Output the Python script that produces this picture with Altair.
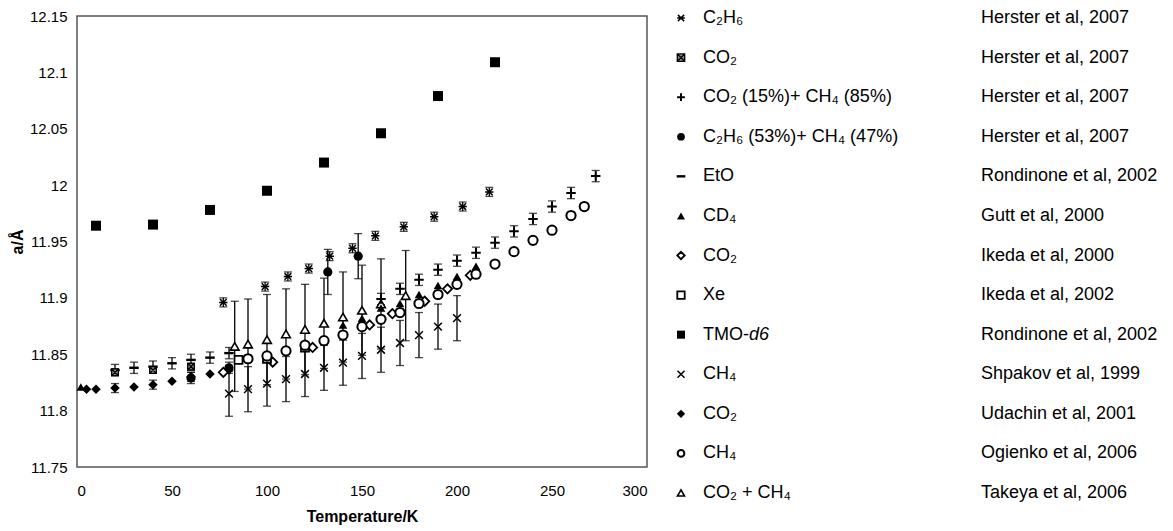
import altair as alt
import pandas as pd

# ---- lattice parameter a (Å) of sI clathrate hydrates versus temperature (K)
# each series: temperatures, lattice parameters, error half-widths

c2h6_T = [77, 99, 111, 122, 133, 145, 157, 172, 188, 203, 217]
c2h6_a = [11.896, 11.910, 11.919, 11.926, 11.937, 11.944, 11.955, 11.963, 11.972, 11.981, 11.994]
c2h6_err = [0.004] * 11

co2_herster_T = [20, 40, 60]
co2_herster_a = [11.834, 11.836, 11.839]
co2_herster_err = [0.003, 0.003, 0.003]

co2ch4_T = [160, 170, 180, 190, 200, 210, 220, 230, 240, 250, 260, 273]
co2ch4_a = [11.899, 11.908, 11.916, 11.925, 11.933, 11.940, 11.949, 11.959, 11.970, 11.981, 11.993, 12.008]
co2ch4_err = [0.005] * 12

c2h6ch4_T = [60, 80, 132, 148]
c2h6ch4_a = [11.829, 11.838, 11.923, 11.937]
c2h6ch4_err = [0.005, 0.005, 0.020, 0.020]

eto_T = [20, 30, 40, 50, 60, 70, 80]
eto_a = [11.836, 11.838, 11.839, 11.842, 11.845, 11.847, 11.851]
eto_err = [0.005] * 7

cd4_T = [2, 140, 150, 160, 170, 180, 190, 200, 210]
cd4_a = [11.821, 11.876, 11.882, 11.891, 11.895, 11.903, 11.911, 11.919, 11.928]
cd4_err = [0.0] * 9

co2_ikeda_T = [77, 103, 124, 154, 166, 183, 195, 207]
co2_ikeda_a = [11.834, 11.843, 11.856, 11.876, 11.886, 11.897, 11.908, 11.920]
co2_ikeda_err = [0.0] * 8

xe_T = [85, 100, 120]
xe_a = [11.845, 11.846, 11.856]
xe_err = [0.0] * 3

tmo_T = [10, 40, 70, 100, 130, 160, 190, 220]
tmo_a = [11.964, 11.965, 11.978, 11.995, 12.020, 12.046, 12.079, 12.109]
tmo_err = [0.0] * 8

ch4_shpakov_T = [80, 90, 100, 110, 120, 130, 140, 150, 160, 170, 180, 190, 200]
ch4_shpakov_a = [11.815, 11.819, 11.824, 11.828, 11.8325, 11.838, 11.8425, 11.8485, 11.854,
                 11.860, 11.867, 11.8745, 11.882]
ch4_shpakov_err = [0.020] * 13

co2_udachin_T = [5, 10, 20, 30, 40, 50, 60, 70, 80]
co2_udachin_a = [11.819, 11.819, 11.820, 11.821, 11.823, 11.826, 11.830, 11.8325, 11.836]
co2_udachin_err = [0.0, 0.0, 0.004, 0.0, 0.004, 0.0, 0.004, 0.0, 0.0]

ch4_ogienko_T = [90, 100, 110, 120, 130, 140, 150, 160, 170, 180, 190, 200, 210, 220, 230,
                 240, 250, 260, 267]
ch4_ogienko_a = [11.846, 11.8485, 11.853, 11.858, 11.862, 11.867, 11.8745, 11.881, 11.887,
                 11.895, 11.903, 11.912, 11.921, 11.930, 11.941, 11.951, 11.960, 11.973, 11.981]
ch4_ogienko_err = [0.003] * 19

takeya_T = [83, 90, 100, 110, 120, 130, 140, 150, 160, 173]
takeya_a = [11.857, 11.859, 11.863, 11.868, 11.872, 11.8775, 11.883, 11.889, 11.8946, 11.902]
takeya_err = [0.040] * 10

# legend rows: formula, reference
legend_labels = ["C₂H₆", "CO₂", "CO₂ (15%)+ CH₄ (85%)", "C₂H₆ (53%)+ CH₄ (47%)", "EtO", "CD₄",
                 "CO₂", "Xe", "TMO-", "CH₄", "CO₂", "CH₄", "CO₂ + CH₄"]
legend_refs = ["Herster et al, 2007", "Herster et al, 2007", "Herster et al, 2007",
               "Herster et al, 2007", "Rondinone et al, 2002", "Gutt et al, 2000",
               "Ikeda et al, 2000", "Ikeda et al, 2002", "Rondinone et al, 2002",
               "Shpakov et al, 1999", "Udachin et al, 2001", "Ogienko et al, 2006",
               "Takeya et al, 2006"]

series = [
    ("c2h6", c2h6_T, c2h6_a, c2h6_err),
    ("co2_herster", co2_herster_T, co2_herster_a, co2_herster_err),
    ("co2ch4", co2ch4_T, co2ch4_a, co2ch4_err),
    ("c2h6ch4", c2h6ch4_T, c2h6ch4_a, c2h6ch4_err),
    ("eto", eto_T, eto_a, eto_err),
    ("cd4", cd4_T, cd4_a, cd4_err),
    ("co2_ikeda", co2_ikeda_T, co2_ikeda_a, co2_ikeda_err),
    ("xe", xe_T, xe_a, xe_err),
    ("tmo", tmo_T, tmo_a, tmo_err),
    ("ch4_shpakov", ch4_shpakov_T, ch4_shpakov_a, ch4_shpakov_err),
    ("co2_udachin", co2_udachin_T, co2_udachin_a, co2_udachin_err),
    ("ch4_ogienko", ch4_ogienko_T, ch4_ogienko_a, ch4_ogienko_err),
    ("takeya", takeya_T, takeya_a, takeya_err),
]

rows = []
for key, ts, As, errs in series:
    for t, a, e in zip(ts, As, errs):
        rows.append({"series": key, "T": t, "a": a, "err": e, "lo": a - e, "hi": a + e})
df = pd.DataFrame(rows)

legend_df = pd.DataFrame({
    "row": list(range(len(legend_labels))),
    "series": [s[0] for s in series],
    "label": legend_labels,
    "ref": legend_refs,
})

# marker glyphs (unit paths)
ASTERISK = "M-0.8,-0.8L0.8,0.8M-0.8,0.8L0.8,-0.8M-1,0L1,0"
BOX_X = "M-1,-1L1,-1L1,1L-1,1ZM-1,-1L1,1M-1,1L1,-1"
PLUS = "M-1,0L1,0M0,-1L0,1"
DASH = "M-1,0L1,0"
XMARK = "M-1,-1L1,1M-1,1L1,-1"

# key: (shape, fill, stroke width, size in plot, size in legend)
style = {
    "c2h6": (ASTERISK, None, 1.5, 70, 60),
    "co2_herster": (BOX_X, "#888", 1.3, 45, 55),
    "co2ch4": (PLUS, None, 2.0, 90, 60),
    "c2h6ch4": ("circle", "black", 0, 85, 60),
    "eto": (DASH, None, 2.4, 90, 75),
    "cd4": ("triangle-up", "black", 0, 75, 65),
    "co2_ikeda": ("diamond", "white", 1.8, 85, 55),
    "xe": ("square", "white", 1.8, 64, 55),
    "tmo": ("square", "black", 0, 100, 65),
    "ch4_shpakov": (XMARK, None, 1.5, 60, 50),
    "co2_udachin": ("diamond", "black", 0, 90, 70),
    "ch4_ogienko": ("circle", "white", 2.0, 85, 45),
    "takeya": ("triangle-up", "white", 1.6, 75, 50),
}

FONT = "Liberation Sans"

x_enc = alt.X("T:Q", title="Temperature/K",
              scale=alt.Scale(domain=[0, 300], nice=False, zero=False),
              axis=alt.Axis(values=[0, 50, 100, 150, 200, 250, 300], grid=False, ticks=False,
                            domain=False, labelFontSize=15, labelColor="black",
                            labelPadding=16, titleFontSize=16, titleFontWeight="bold",
                            titleColor="black", titlePadding=10, labelFont=FONT,
                            titleFont=FONT))
y_scale = alt.Scale(domain=[11.75, 12.15], nice=False, zero=False)
y_axis = alt.Axis(values=[11.75, 11.8, 11.85, 11.9, 11.95, 12.0, 12.05, 12.1, 12.15],
                  format="~g", grid=False, ticks=False, domain=False, labelFontSize=15,
                  labelColor="black", labelPadding=10, titleFontSize=16,
                  titleFontWeight="bold", titleColor="black", titlePadding=4,
                  labelFont=FONT, titleFont=FONT)

base = alt.Chart(df)

layers = []
with_err = df[df["err"] > 0]["series"].unique().tolist()

# error bars: vertical rule plus caps
for key in with_err:
    sub = base.transform_filter(alt.datum.series == key).transform_filter(alt.datum.err > 0)
    layers.append(sub.mark_rule(color="black", strokeWidth=1.3).encode(
        x=x_enc, y=alt.Y("lo:Q", scale=y_scale, axis=y_axis, title="a/Å"), y2="hi:Q"))
    layers.append(sub.transform_fold(["lo", "hi"], as_=["end", "v"])
                  .mark_tick(orient="horizontal", color="black", size=8, thickness=1.3)
                  .encode(x=x_enc, y=alt.Y("v:Q", scale=y_scale, axis=y_axis, title="a/Å")))

draw_order = ["ch4_shpakov", "takeya", "co2_udachin", "cd4", "eto", "co2ch4", "c2h6ch4",
              "co2_herster", "co2_ikeda", "xe", "ch4_ogienko", "c2h6", "tmo"]


def point_props(key, in_legend):
    shape, fill, sw, size_plot, size_leg = style[key]
    size = size_leg if in_legend else size_plot
    if fill is None:
        return dict(shape=shape, filled=False, stroke="black", strokeWidth=sw, size=size,
                    opacity=1)
    if sw == 0:
        return dict(shape=shape, filled=True, fill=fill, size=size, opacity=1, fillOpacity=1,
                    strokeWidth=0)
    return dict(shape=shape, filled=True, fill=fill, fillOpacity=1, stroke="black",
                strokeWidth=sw, size=size, opacity=1)


for key in draw_order:
    layers.append(base.transform_filter(alt.datum.series == key)
                  .mark_point(**point_props(key, False))
                  .encode(x=x_enc, y=alt.Y("a:Q", scale=y_scale, axis=y_axis, title="a/Å")))

plot = alt.layer(*layers)

# legend drawn beside the plot, one row per data set
leg_y = alt.Y("row:Q", scale=alt.Scale(domain=[0, 12], range=[2, 477]), axis=None)
leg = alt.Chart(legend_df)
leg_layers = []
for key in draw_order:
    leg_layers.append(leg.transform_filter(alt.datum.series == key)
                      .mark_point(**point_props(key, True))
                      .encode(x=alt.value(604), y=leg_y))
leg_layers.append(leg.mark_text(align="left", baseline="middle", font=FONT, fontSize=18,
                                color="black")
                  .encode(x=alt.value(626), y=leg_y, text="label:N"))
leg_layers.append(leg.transform_filter(alt.datum.series == "tmo")
                  .mark_text(align="left", baseline="middle", font=FONT, fontSize=18,
                             fontStyle="italic", color="black")
                  .encode(x=alt.value(672), y=leg_y, text=alt.value("d6")))
leg_layers.append(leg.mark_text(align="left", baseline="middle", font=FONT, fontSize=18,
                                color="black")
                  .encode(x=alt.value(904), y=leg_y, text="ref:N"))
legend = alt.layer(*leg_layers)

chart = (
    alt.layer(plot, legend)
    .resolve_scale(y="independent")
    .properties(width=570, height=451,
                autosize=alt.AutoSizeParams(type="none"),
                padding={"left": 77, "top": 16, "right": 526, "bottom": 64},
                background="white")
    .configure_view(stroke="#555555", strokeWidth=1.5)
)

chart.save("out.html", embed_options={"renderer": "svg", "actions": False})
